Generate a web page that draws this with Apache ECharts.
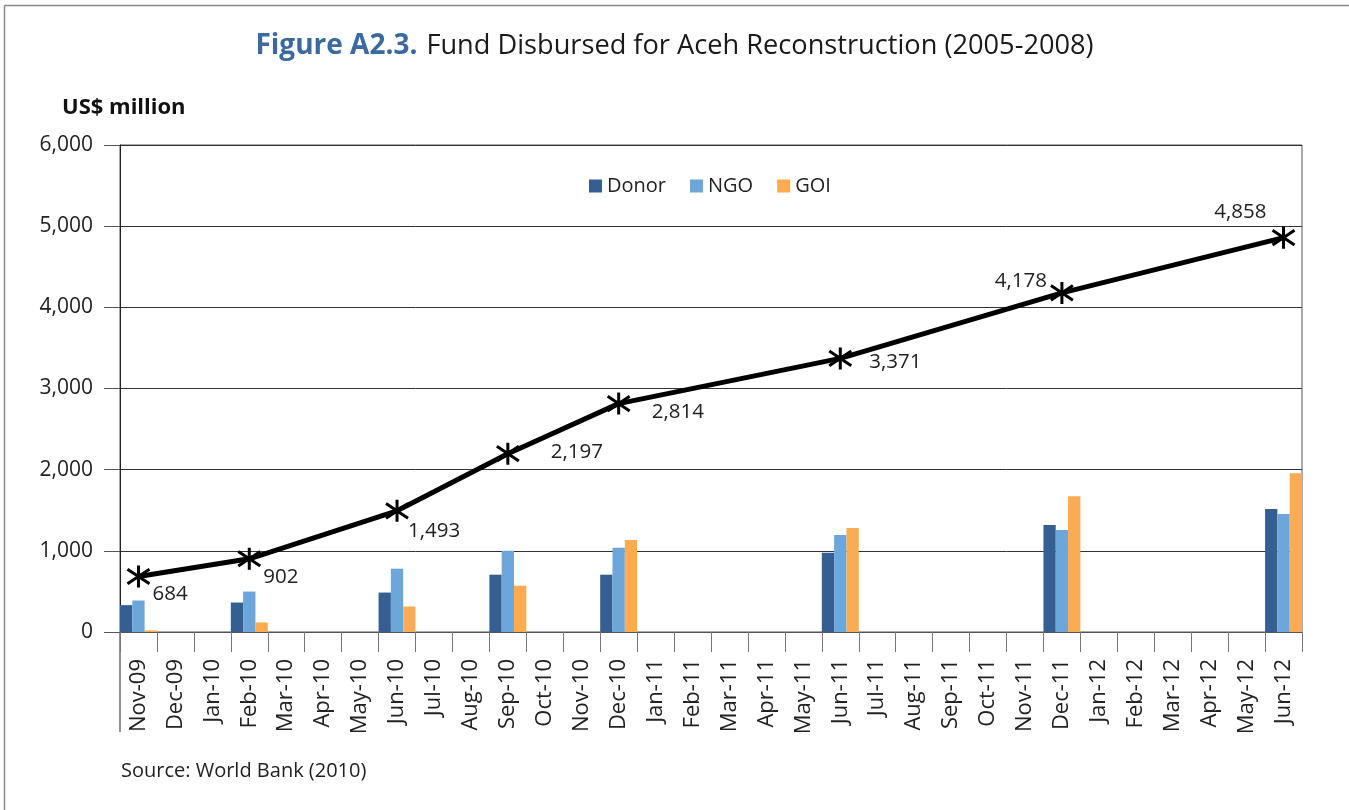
<!DOCTYPE html>
<html>
<head>
<meta charset="utf-8">
<title>Fund Disbursed for Aceh Reconstruction</title>
<script src="https://cdn.jsdelivr.net/npm/echarts@6/dist/echarts.min.js"></script>
<style>
  html, body { margin: 0; padding: 0; background: #fff; }
  #main { width: 1349px; height: 810px; }
</style>
</head>
<body>
<div id="main"></div>
<script type="text/javascript">
var months = ['Nov-09','Dec-09','Jan-10','Feb-10','Mar-10','Apr-10','May-10','Jun-10',
  'Jul-10','Aug-10','Sep-10','Oct-10','Nov-10','Dec-10','Jan-11','Feb-11','Mar-11',
  'Apr-11','May-11','Jun-11','Jul-11','Aug-11','Sep-11','Oct-11','Nov-11','Dec-11',
  'Jan-12','Feb-12','Mar-12','Apr-12','May-12','Jun-12'];

// months that have data
var reportMonths = ['Nov-09','Feb-10','Jun-10','Sep-10','Dec-10','Jun-11','Dec-11','Jun-12'];
var donor = [331, 363, 486, 706, 706, 976, 1318, 1514];
var ngo   = [388, 498, 780, 1000, 1037, 1196, 1257, 1453];
var goi   = [20, 118, 314, 571, 1135, 1282, 1673, 1955];
var total = [684, 902, 1493, 2197, 2814, 3371, 4178, 4858];

// label placement for the total line (offset from marker, alignment)
var labelOffsets = [[14,18],[14,18],[11,20],[43,-2],[33,9],[29,4],[-15,-12],[-17,-26]];
var labelAligns  = ['left','left','left','left','left','left','right','right'];

function spread(vals, fill) {
  var out = months.map(function () { return fill; });
  reportMonths.forEach(function (m, i) { out[months.indexOf(m)] = vals[i]; });
  return out;
}

var lineData = months.map(function () { return null; });
reportMonths.forEach(function (m, i) {
  lineData[months.indexOf(m)] = {
    value: total[i],
    label: {
      show: true,
      position: 'inside',
      align: labelAligns[i],
      verticalAlign: 'middle',
      offset: labelOffsets[i]
    }
  };
});

var fmt = function (v) { return v.toLocaleString('en-US'); };
var font = '"Open Sans", "Noto Sans", sans-serif';

var myChart = echarts.init(document.getElementById('main'));
var option = {
  backgroundColor: '#fff',
  animation: false,
  textStyle: { fontFamily: font },
  title: [{
    text: '{b|Figure A2.3.}{s| }{n|Fund Disbursed for Aceh Reconstruction (2005-2008)}',
    left: 'center',
    top: 27,
    textStyle: {
      rich: {
        b: { fontFamily: font, fontSize: 28, fontWeight: 'bold', color: '#3b6aa0' },
        s: { fontFamily: font, fontSize: 28, width: 9 },
        n: { fontFamily: font, fontSize: 27.2, fontWeight: 'normal', color: '#1a1a1a' }
      }
    }
  }, {
    text: 'US$ million',
    left: 57,
    top: 92,
    textStyle: { fontFamily: font, fontSize: 22, fontWeight: 'bold', color: '#111' }
  }, {
    text: 'Source: World Bank (2010)',
    left: 116,
    top: 756,
    textStyle: { fontFamily: font, fontSize: 20, fontWeight: 'normal', color: '#222' }
  }],
  legend: {
    data: ['Donor', 'NGO', 'GOI'],
    left: 584,
    top: 171,
    icon: 'rect',
    itemWidth: 13,
    itemHeight: 13,
    itemGap: 24,
    textStyle: { fontFamily: font, fontSize: 20, color: '#222' }
  },
  grid: {
    left: 120, right: 47, top: 145, bottom: 178,
    show: true, borderColor: '#555', borderWidth: 1
  },
  xAxis: {
    type: 'category',
    data: months,
    boundaryGap: true,
    axisLine: { lineStyle: { color: '#555', width: 1 } },
    axisTick: { show: true, interval: 0, length: 20, lineStyle: { color: '#777' } },
    axisLabel: {
      interval: 0, rotate: 90, margin: 27,
      fontFamily: font, fontSize: 22, color: '#222'
    }
  },
  yAxis: {
    type: 'value',
    min: 0, max: 6000, interval: 1000,
    axisLine: { show: true, lineStyle: { color: '#222' } },
    axisTick: { show: true, length: 16, lineStyle: { color: '#555' } },
    splitLine: { lineStyle: { color: '#333', width: 1 } },
    axisLabel: {
      formatter: fmt, margin: 27,
      fontFamily: font, fontSize: 21, color: '#222'
    }
  },
  series: [{
    name: 'Donor', type: 'bar', data: spread(donor, '-'),
    barGap: '0%', barCategoryGap: '0%',
    itemStyle: { color: '#355f91' }
  }, {
    name: 'NGO', type: 'bar', data: spread(ngo, '-'),
    itemStyle: { color: '#6da6da' }
  }, {
    name: 'GOI', type: 'bar', data: spread(goi, '-'),
    itemStyle: { color: '#f9ac52' }
  }, {
    name: 'Total', type: 'line', data: lineData,
    connectNulls: true,
    symbol: 'path://M0,-9L0,9M-8,-6L8,6M-8,6L8,-6',
    symbolSize: 22,
    showSymbol: true,
    lineStyle: { color: '#000', width: 5 },
    itemStyle: { color: '#000', borderColor: '#000', borderWidth: 3 },
    label: {
      formatter: function (p) { return fmt(p.value); },
      fontFamily: font, fontSize: 20.5, color: '#222'
    },
    z: 5
  }],
  graphic: [
    { type: 'line', shape: { x1: 120, y1: 632, x2: 120, y2: 732 }, style: { stroke: '#222', lineWidth: 1 } },
    { type: 'line', shape: { x1: 4.5, y1: 5.5, x2: 1349, y2: 5.5 }, style: { stroke: '#888', lineWidth: 1.5 } },
    { type: 'line', shape: { x1: 4.5, y1: 5.5, x2: 4.5, y2: 810 }, style: { stroke: '#888', lineWidth: 1.5 } }
  ]
};
myChart.setOption(option);
</script>
</body>
</html>
